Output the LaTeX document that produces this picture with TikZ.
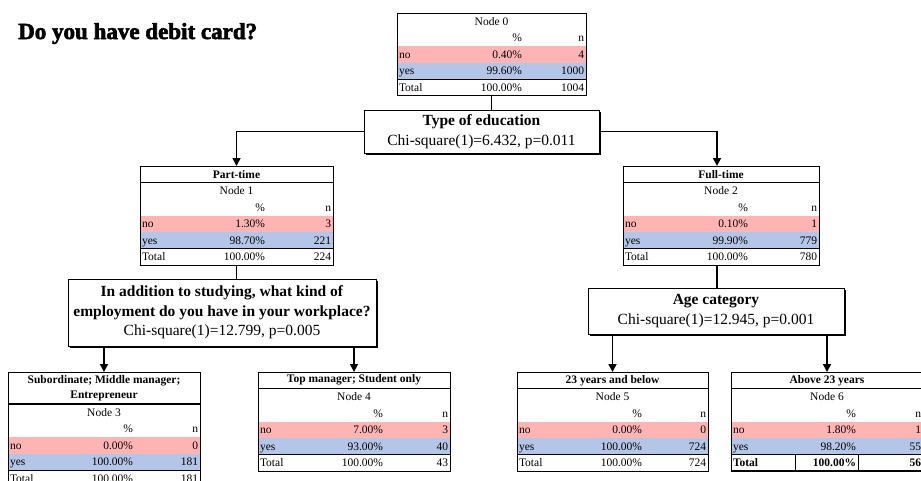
\documentclass[tikz,border=0pt]{standalone}
\usepackage{fontspec}
\setmainfont{Liberation Serif}
\newfontfamily\titlefont[BoldFeatures={FakeBold=2.5}]{Liberation Serif}
\usetikzlibrary{arrows.meta,calc,shadows}
\definecolor{pinkrow}{RGB}{255,180,180}
\definecolor{bluerow}{RGB}{180,198,231}
\newcommand\totfont{}
% #1 number, #2 width, #3 header height, #4 header text, #5 no%, #6 no n, #7 yes%, #8 yes n, #9 total n
\newcommand\tbl[9]{%
  \path[fill=pinkrow] (0,{#3+33}) rectangle (#2,{#3+49.5});
  \path[fill=bluerow] (0,{#3+49.5}) rectangle (#2,{#3+66});
  \draw[line width=0.5pt] (0,{#3+66}) -- (#2,{#3+66});
  \node[tt, anchor=base] (node#1-lab) at ({#2/2},{#3+12.3}) {Node #1};
  \node[tt, anchor=base east] (node#1-pcth) at (125,{#3+28.8}) {\%};
  \node[tt, anchor=base east] (node#1-nh) at ({#2-2},{#3+28.8}) {n};
  \node[tt, anchor=base west] (node#1-nol) at (2,{#3+45.3}) {no};
  \node[tt, anchor=base east] (node#1-nop) at (125,{#3+45.3}) {#5};
  \node[tt, anchor=base east] (node#1-non) at ({#2-2},{#3+45.3}) {#6};
  \node[tt, anchor=base west] (node#1-yesl) at (2,{#3+61.8}) {yes};
  \node[tt, anchor=base east] (node#1-yesp) at (125,{#3+61.8}) {#7};
  \node[tt, anchor=base east] (node#1-yesn) at ({#2-2},{#3+61.8}) {#8};
  \node[tt, anchor=base west] (node#1-totl) at (2,{#3+78.3}) {\totfont Total};
  \node[tt, anchor=base east] (node#1-totp) at (125,{#3+78.3}) {\totfont 100.00\%};
  \node[tt, anchor=base east] (node#1-totn) at ({#2-2},{#3+78.3}) {\totfont #9};
  \ifx\relax#4\relax\else
    \draw[line width=1.4pt] (0,#3) -- (#2,#3);
    \node[th] (node#1-head) at ({#2/2},{#3/2}) {#4};
  \fi
  \node[frame, minimum width=#2pt, minimum height={(#3+82.5)*1pt}] (node#1) at (0,0) {};
}
\tikzset{
  tt/.style={font=\fontsize{11.5}{13}\selectfont, inner sep=0pt, outer sep=0pt},
  th/.style={font=\bfseries\fontsize{11.5}{15}\selectfont, inner sep=0pt, align=center},
  frame/.style={draw, line width=0.8pt, inner sep=0pt, outer sep=0pt, anchor=north west},
  splitbox/.style={draw, line width=0.9pt, fill=white, align=center, inner sep=0pt, outer sep=0pt,
    font=\fontsize{15.5}{19.5}\selectfont,
    drop shadow={shadow xshift=2pt, shadow yshift=-2pt, fill=black, opacity=1}},
  conn/.style={line width=1.6pt},
  arr/.style={conn, -{Triangle[width=8pt,length=8pt]}},
}
\begin{document}
\begin{tikzpicture}[x=1pt,y=-1pt]
\useasboundingbox[fill=white] (0,0) rectangle (921,480);

\node[anchor=base west, inner sep=0pt, font=\titlefont\bfseries\fontsize{23}{26}\selectfont] (title) at (18,39) {Do you have debit card?};

\begin{scope}[shift={(397,13)}]
  \tbl{0}{189}{0}{}{0.40\%}{4}{99.60\%}{1000}{1004}
\end{scope}
\begin{scope}[shift={(140,166)}]
  \tbl{1}{193}{16.5}{Part-time}{1.30\%}{3}{98.70\%}{221}{224}
\end{scope}
\begin{scope}[shift={(623,166)}]
  \tbl{2}{196}{16.5}{Full-time}{0.10\%}{1}{99.90\%}{779}{780}
\end{scope}
\begin{scope}[shift={(8,372)}]
  \tbl{3}{192}{32}{Subordinate; Middle manager;\\Entrepreneur}{0.00\%}{0}{100.00\%}{181}{181}
\end{scope}
\begin{scope}[shift={(258,372)}]
  \tbl{4}{192}{16.5}{Top manager; Student only}{7.00\%}{3}{93.00\%}{40}{43}
\end{scope}
\begin{scope}[shift={(517,372)}]
  \tbl{5}{191}{16.5}{23 years and below}{0.00\%}{0}{100.00\%}{724}{724}
\end{scope}
\begin{scope}[shift={(731,372)}]
  \renewcommand\totfont{\bfseries}
  \tbl{6}{192}{16.5}{Above 23 years}{1.80\%}{1}{98.20\%}{55}{56}
  \draw[line width=0.6pt] (64,82.5) -- (64,99);
  \draw[line width=0.6pt] (127,82.5) -- (127,99);
  \draw[line width=1.2pt] (0,99) -- (192,99);
\end{scope}

\node[splitbox, minimum width=235pt, minimum height=43pt] (s1) at (481.5,131.5)
  {\textbf{Type of education}\\Chi-square(1)=6.432, p=0.011};
\node[splitbox, minimum width=308pt, minimum height=67pt] (q) at (222,312.5)
  {\textbf{In addition to studying, what kind of}\\\textbf{employment do you have in your workplace?}\\Chi-square(1)=12.799, p=0.005};
\node[splitbox, minimum width=256pt, minimum height=46pt] (age) at (716,311)
  {\textbf{Age category}\\Chi-square(1)=12.945, p=0.001};

\coordinate (n2c) at ($(node2.north west)+(94,0)$);
\draw[conn] (node0.south) -- (node0.south |- s1.north);
\draw[arr] (s1.west) -| (node1.north);
\draw[arr] (s1.east) -| (n2c);
\draw[conn] (node1.south) -- (node1.south |- q.north);
\draw[conn] (n2c |- node2.south) -- (n2c |- age.north);
\draw[arr] (q.south -| node3.north) -- (node3.north);
\draw[arr] (q.south -| node4.north) -- (node4.north);
\draw[arr] (age.south -| node5.north) -- (node5.north);
\draw[arr] (age.south -| node6.north) -- (node6.north);
\end{tikzpicture}
\end{document}
